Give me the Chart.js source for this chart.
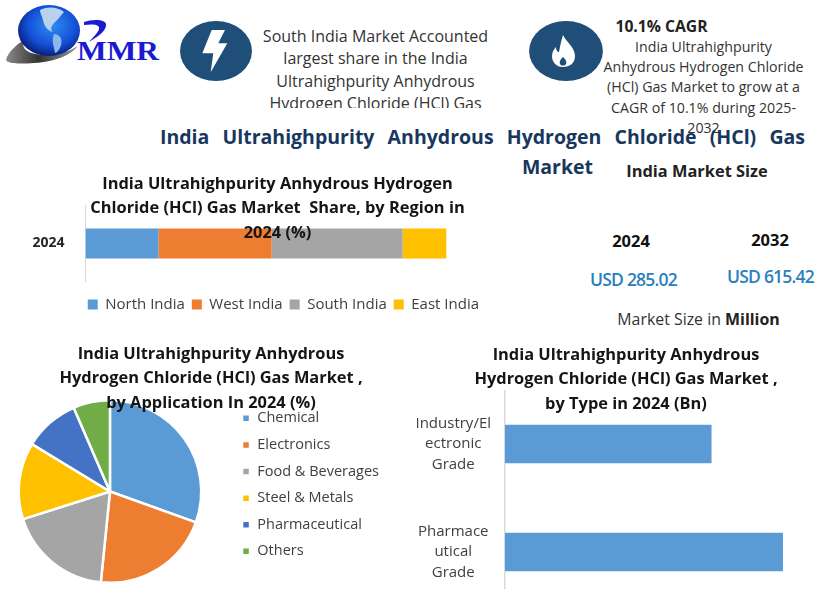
<!DOCTYPE html>
<html><head><meta charset="utf-8">
<script src="https://cdn.jsdelivr.net/npm/chart.js@4/dist/chart.umd.min.js"></script>
<style>
html,body{margin:0;padding:0;width:832px;height:589px;overflow:hidden;background:#fff;font-family:"Open Sans",sans-serif;color:#333}
.c{position:absolute}
.t{position:absolute;transform:translateX(-50%);text-align:center;white-space:nowrap}
.ttl{font-weight:700;font-size:16.4px;line-height:24.3px;color:#151515}
svg{position:absolute;left:0;top:0}
</style></head><body>
<div class="c" style="left:0;top:205px;width:486px;height:117px"><canvas id="regionChart"></canvas></div>
<div class="c" style="left:-10px;top:399px;width:399px;height:185px"><canvas id="appChart"></canvas></div>
<div class="c" style="left:400px;top:390px;width:411px;height:216px"><canvas id="typeChart"></canvas></div>

<svg width="832" height="130" viewBox="0 0 832 130">
<defs>
<radialGradient id="gl" cx="0.55" cy="0.4" r="0.65"><stop offset="0" stop-color="#2f8ef2"/><stop offset="0.6" stop-color="#1450d8"/><stop offset="1" stop-color="#07156a"/></radialGradient>
<linearGradient id="sw" x1="0" x2="1"><stop offset="0" stop-color="#8a8a8a"/><stop offset="0.45" stop-color="#333"/><stop offset="1" stop-color="#999"/></linearGradient>
</defs>
<path d="M6 60C8 52 16 45 24 40C20 50 30 55 48 55C58 55 68 52 78 46C72 54 56 62 34 63C20 64 8 64 6 60Z" fill="url(#sw)"/>
<ellipse cx="49" cy="30.5" rx="31" ry="25.5" fill="url(#gl)"/>
<path d="M40 10C48 6 58 7 64 12C60 16 58 20 54 23C51 26 50 30 53 32C48 31 44 26 43 20C42 16 40 13 40 10Z" fill="#b9d3ee"/>
<path d="M54 34C59 34 63 38 61 45C60 49 57 53 55 53C54 47 51 40 54 34Z" fill="#8db8ea"/>
<path d="M84 22C92 19 105 19 106 24C107 31 97 37 89 42C94 36 100 31 99 27C98 24 90 24 84 25Z" fill="#1a1ad0"/>
<circle cx="216" cy="51" r="30" fill="#1f4e79" transform="translate(216 51) scale(1.2 1) translate(-216 -51)"/>
<path d="M211.7 30L225 30L218.3 43.3L227.3 43.3L210.7 72.3L213.3 53.3L202.3 53.3Z" fill="#fff"/>
<circle cx="566" cy="51" r="30" fill="#1f4e79" transform="translate(566 51) scale(1.23 1) translate(-566 -51)"/>
<path d="M563 35C566 42 575 47 575 56C575 63 570 67 563 67C556 67 552 62 552 56C552 52 554 49 556 47C556 51 558 52 559 52C560 47 561 41 563 35Z" fill="#fff"/>
<path d="M563 57C565 59 567 61 566 64C565 66 561 66 560 64C559 61 561 59 563 57Z" fill="#1f4e79"/>
</svg>
<div class="t" style="left:117.5px;top:34px;font:700 28px/34px 'Liberation Serif',serif;color:#1a1ad0;transform:translateX(-50%) scaleX(1.12)">MMR</div>

<div class="t" style="left:375.5px;top:25px;height:83px;overflow:hidden;font-size:16px;line-height:22.3px">South India Market Accounted<br>largest share in the India<br>Ultrahighpurity Anhydrous<br>Hydrogen Chloride (HCl) Gas</div>
<div class="t" style="left:661.5px;top:16px;font-size:15.7px;line-height:20px;font-weight:700;color:#222">10.1% CAGR</div>
<div class="t" style="left:703.5px;top:37px;font-size:14.2px;line-height:20.2px">India Ultrahighpurity<br>Anhydrous Hydrogen Chloride<br>(HCl) Gas Market to grow at a<br>CAGR of 10.1% during 2025-<br>2032</div>

<div style="position:absolute;left:160px;top:123px;width:645px;font-weight:700;font-size:19.5px;line-height:28px;color:#17375e;text-align:justify;text-align-last:justify;white-space:normal">India Ultrahighpurity Anhydrous Hydrogen Chloride (HCl) Gas</div>
<div class="t" style="left:557.5px;top:153px;font-weight:700;font-size:19.5px;line-height:28px;color:#17375e">Market</div>

<div class="t" style="left:697px;top:160px;font-weight:700;font-size:16.4px;line-height:22px;color:#222">India Market Size</div>
<div class="t" style="left:631px;top:230px;font-weight:700;font-size:16.5px;line-height:22px;color:#111">2024</div>
<div class="t" style="left:770px;top:229px;font-weight:700;font-size:16.5px;line-height:22px;color:#111">2032</div>
<div class="t" style="left:633.5px;top:268px;font-weight:600;font-size:17.5px;line-height:22px;letter-spacing:-0.8px;color:#2a80bf">USD 285.02</div>
<div class="t" style="left:770.5px;top:265px;font-weight:600;font-size:17.5px;line-height:22px;letter-spacing:-0.8px;color:#2a80bf">USD 615.42</div>
<div class="t" style="left:698.5px;top:308px;font-size:15.9px;line-height:22px">Market Size in <b style="color:#222">Million</b></div>

<div class="t ttl" style="left:277.5px;top:171px">India Ultrahighpurity Anhydrous Hydrogen<br>Chloride (HCl) Gas Market&nbsp; Share, by Region in<br>2024 (%)</div>
<div class="t ttl" style="left:211px;top:341px">India Ultrahighpurity Anhydrous<br>Hydrogen Chloride (HCl) Gas Market ,<br>by Application In 2024 (%)</div>
<div class="t ttl" style="left:626px;top:342px">India Ultrahighpurity Anhydrous<br>Hydrogen Chloride (HCl) Gas Market ,<br>by Type in 2024 (Bn)</div>

<script>
const regionCategories = ['2024'];
const regionNames = ['North India', 'West India', 'South India', 'East India'];
const northIndia = [20.2];
const westIndia = [31.4];
const southIndia = [36.3];
const eastIndia = [12.1];
const regionColors = ['#5b9bd5', '#ed7d31', '#a5a5a5', '#ffc000'];

const appLabels = ['Chemical', 'Electronics', 'Food & Beverages', 'Steel & Metals', 'Pharmaceutical', 'Others'];
const appValues = [30.5, 21.1, 18.5, 13.6, 9.8, 6.5];
const appColors = ['#5b9bd5', '#ed7d31', '#a5a5a5', '#ffc000', '#4472c4', '#70ad47'];

const typeLabels = [['Industry/El', 'ectronic', 'Grade'], ['Pharmace', 'utical', 'Grade']];
const typeValues = [0.1215, 0.1635];

const FONT = '"Open Sans", sans-serif';
const TEXT = '#404040';
const AXIS = '#d9d9d9';
Chart.defaults.font.family = FONT;
Chart.defaults.animation = false;
Chart.defaults.responsive = true;
Chart.defaults.maintainAspectRatio = false;

const fixWidth = w => s => { s.width = w; s.paddingTop = 0; s.paddingBottom = 0; };

new Chart(document.getElementById('regionChart'), {
  type: 'bar',
  data: {
    labels: regionCategories,
    datasets: [northIndia, westIndia, southIndia, eastIndia].map((data, i) => ({
      label: regionNames[i], data, backgroundColor: regionColors[i],
      barPercentage: 0.39, categoryPercentage: 1
    }))
  },
  options: {
    indexAxis: 'y',
    layout: { padding: 0 },
    plugins: {
      tooltip: { enabled: false },
      legend: { position: 'bottom', align: 'end',
        title: { display: true, text: ' ', font: { size: 1 }, padding: { top: 0, bottom: 7 } },
        labels: { boxWidth: 10, boxHeight: 10, padding: 7, color: TEXT, font: { size: 15 } } }
    },
    scales: {
      x: { stacked: true, display: false, min: 0, max: 111 },
      y: { stacked: true, afterFit: fixWidth(85.5),
        grid: { display: false, drawTicks: false },
        border: { display: true, color: AXIS, width: 1 },
        ticks: { padding: 21, color: '#262626', font: { size: 14, weight: 'bold' } } }
    }
  }
});

new Chart(document.getElementById('appChart'), {
  type: 'pie',
  data: { labels: appLabels, datasets: [{ data: appValues, backgroundColor: appColors, borderColor: '#fff', borderWidth: 2.5 }] },
  options: {
    layout: { padding: 0 },
    plugins: {
      tooltip: { enabled: false },
      legend: { position: 'right', align: 'start',
        labels: { boxWidth: 8, boxHeight: 8, padding: 12.1, color: TEXT, font: { size: 14.5 } } }
    }
  }
});

new Chart(document.getElementById('typeChart'), {
  type: 'bar',
  data: { labels: typeLabels, datasets: [{ data: typeValues, backgroundColor: '#5b9bd5', barPercentage: 0.356, categoryPercentage: 1 }] },
  options: {
    indexAxis: 'y',
    layout: { padding: 0 },
    plugins: { legend: { display: false }, tooltip: { enabled: false } },
    scales: {
      x: { display: false, min: 0, max: 0.18 },
      y: { afterFit: fixWidth(105),
        grid: { display: false, drawTicks: false },
        border: { display: true, color: AXIS, width: 1.5 },
        ticks: { padding: 14, crossAlign: 'center', color: TEXT, font: { size: 15, lineHeight: 1.36 } } }
    }
  }
});
</script>
</body></html>
